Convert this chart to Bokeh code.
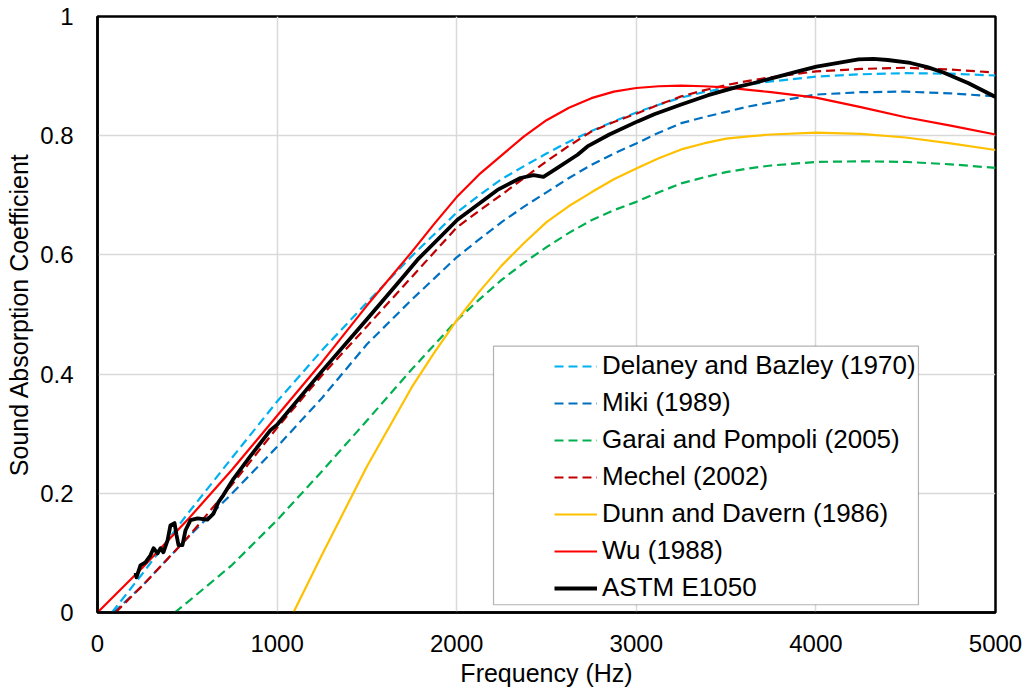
from bokeh.plotting import figure
from bokeh.models import Legend, LegendItem, BoxAnnotation, FixedTicker, Range1d
from bokeh.embed import file_html
from bokeh.resources import INLINE

# ---- data ----
delaney_f = [80, 250, 500, 750, 1000, 1250, 1500, 1750, 2000, 2125, 2250, 2375, 2500,
             2625, 2750, 2875, 3000, 3125, 3250, 3375, 3500, 3625, 3750, 4000, 4250,
             4500, 4750, 5000]
delaney_a = [0.0, 0.065, 0.165, 0.26, 0.354, 0.44, 0.52, 0.598, 0.671, 0.70, 0.727,
             0.749, 0.770, 0.79, 0.808, 0.824, 0.839, 0.852, 0.864, 0.873, 0.880, 0.886,
             0.891, 0.899, 0.903, 0.905, 0.904, 0.901]

miki_f = [90, 250, 500, 750, 1000, 1250, 1500, 1750, 2000, 2125, 2250, 2375, 2500,
          2625, 2750, 2875, 3000, 3125, 3250, 3375, 3500, 3625, 3750, 4000, 4250,
          4500, 4750, 5000]
miki_a = [0.0, 0.045, 0.125, 0.2, 0.278, 0.36, 0.45, 0.525, 0.596, 0.626, 0.655,
          0.681, 0.705, 0.729, 0.751, 0.77, 0.787, 0.805, 0.821, 0.831, 0.840, 0.849,
          0.856, 0.869, 0.873, 0.874, 0.871, 0.866]

garai_f = [430, 500, 750, 1000, 1250, 1500, 1750, 2000, 2125, 2250, 2375, 2500, 2625,
           2750, 2875, 3000, 3125, 3250, 3375, 3500, 3625, 3750, 4000, 4250, 4500,
           4750, 5000]
garai_a = [0.0, 0.017, 0.08, 0.155, 0.237, 0.322, 0.408, 0.49, 0.525, 0.558, 0.587,
           0.613, 0.637, 0.658, 0.675, 0.689, 0.705, 0.72, 0.730, 0.739, 0.745, 0.75,
           0.756, 0.757, 0.756, 0.752, 0.746]

mechel_f = [100, 250, 500, 750, 1000, 1250, 1500, 1750, 2000, 2125, 2250, 2375, 2500,
            2625, 2750, 2875, 3000, 3125, 3250, 3375, 3500, 3625, 3750, 4000, 4250,
            4500, 4750, 5000]
mechel_a = [0.0, 0.045, 0.125, 0.215, 0.31, 0.398, 0.48, 0.563, 0.646, 0.674, 0.701,
            0.729, 0.757, 0.783, 0.807, 0.823, 0.837, 0.852, 0.866, 0.876, 0.885, 0.892,
            0.898, 0.908, 0.912, 0.914, 0.911, 0.906]

dunn_f = [1091, 1250, 1500, 1750, 1875, 2000, 2125, 2250, 2375, 2500, 2625, 2750,
          2875, 3000, 3125, 3250, 3375, 3500, 3625, 3750, 4000, 4250, 4500, 4750, 5000]
dunn_a = [0.0, 0.097, 0.245, 0.378, 0.436, 0.49, 0.538, 0.582, 0.62, 0.655, 0.682,
          0.705, 0.727, 0.745, 0.762, 0.777, 0.787, 0.795, 0.799, 0.802, 0.805, 0.803,
          0.797, 0.787, 0.776]

wu_f = [0, 250, 500, 750, 1000, 1250, 1500, 1750, 1875, 2000, 2125, 2250, 2375, 2500,
        2625, 2750, 2875, 3000, 3125, 3250, 3375, 3500, 3625, 3750, 4000, 4250, 4500,
        4750, 5000]
wu_a = [0.0, 0.075, 0.155, 0.24, 0.33, 0.42, 0.515, 0.605, 0.652, 0.697, 0.735, 0.767,
        0.799, 0.826, 0.847, 0.863, 0.874, 0.880, 0.883, 0.884, 0.883, 0.881, 0.877,
        0.873, 0.864, 0.848, 0.831, 0.817, 0.802]

astm_f = [212, 217, 239, 267, 295, 312, 334, 351, 367, 390, 406, 429, 440, 451, 473,
          490, 518, 557, 612, 646, 673, 701, 752, 850, 963, 1000, 1250, 1500, 1687,
          1782, 2004, 2094, 2227, 2355, 2428, 2483, 2561, 2673, 2728, 2850, 3007,
          3100, 3246, 3400, 3563, 3650, 3800, 3900, 4003, 4100, 4237, 4320, 4400,
          4527, 4620, 4710, 4850, 5000]
astm_a = [0.067, 0.059, 0.079, 0.084, 0.096, 0.108, 0.099, 0.108, 0.101, 0.121, 0.146,
          0.150, 0.130, 0.113, 0.113, 0.138, 0.155, 0.158, 0.156, 0.166, 0.185, 0.197,
          0.222, 0.262, 0.306, 0.315, 0.405, 0.492, 0.558, 0.592, 0.659, 0.679, 0.709,
          0.729, 0.734, 0.731, 0.746, 0.768, 0.782, 0.802, 0.824, 0.836, 0.852, 0.868,
          0.882, 0.888, 0.900, 0.908, 0.916, 0.921, 0.928, 0.929, 0.927, 0.922, 0.915,
          0.906, 0.888, 0.865]

series_names = ["Delaney and Bazley (1970)", "Miki (1989)", "Garai and Pompoli (2005)",
                "Mechel (2002)", "Dunn and Davern (1986)", "Wu (1988)", "ASTM E1050"]

x_ticks = [0, 1000, 2000, 3000, 4000, 5000]
y_ticks = [0, 0.2, 0.4, 0.6, 0.8, 1.0]

FONT = "Liberation Sans"

p = figure(width=1034, height=696, output_backend="svg", toolbar_location=None,
           x_range=Range1d(0, 5000), y_range=Range1d(0, 1),
           min_border_left=97, min_border_right=39, min_border_top=16, min_border_bottom=84)
p.background_fill_color = "white"
p.border_fill_color = "white"
p.outline_line_color = "black"
p.outline_line_width = 2.5

p.xaxis.ticker = FixedTicker(ticks=x_ticks)
p.yaxis.ticker = FixedTicker(ticks=y_ticks)
p.yaxis.major_label_overrides = {0: "0", 0.2: "0.2", 0.4: "0.4", 0.6: "0.6", 0.8: "0.8", 1.0: "1"}
for ax in (p.xaxis, p.yaxis):
    ax.axis_line_color = "black"
    ax.axis_line_width = 2.5
    ax.major_tick_line_color = None
    ax.minor_tick_line_color = None
    ax.major_label_text_font = FONT
    ax.major_label_text_font_size = "24px"
    ax.major_label_text_color = "black"
    ax.axis_label_text_font = FONT
    ax.axis_label_text_font_size = "25px"
    ax.axis_label_text_font_style = "normal"
    ax.axis_label_text_color = "black"
p.xaxis.axis_label = "Frequency (Hz)"
p.yaxis.axis_label = "Sound Absorption Coefficient"
p.xaxis.major_label_standoff = 16
p.yaxis.major_label_standoff = 18
p.xaxis.axis_label_standoff = 4
p.yaxis.axis_label_standoff = 4

p.xgrid.grid_line_color = "#D9D9D9"
p.ygrid.grid_line_color = "#D9D9D9"
p.xgrid.grid_line_width = 1.5
p.ygrid.grid_line_width = 1.5

DASH = "9 5"
r_del = p.line(delaney_f, delaney_a, line_color="#00B0F0", line_width=2.2, line_dash=DASH)
r_miki = p.line(miki_f, miki_a, line_color="#0070C0", line_width=2.2, line_dash=DASH)
r_gar = p.line(garai_f, garai_a, line_color="#00B050", line_width=2.2, line_dash=DASH)
r_mec = p.line(mechel_f, mechel_a, line_color="#C00000", line_width=2.2, line_dash=DASH)
r_dunn = p.line(dunn_f, dunn_a, line_color="#FFC000", line_width=2.2)
r_wu = p.line(wu_f, wu_a, line_color="#FF0000", line_width=2.2)
r_astm = p.line(astm_f, astm_a, line_color="black", line_width=3.8, line_join="round")

box = BoxAnnotation(left=2205, right=4571, bottom=0.013, top=0.447,
                    fill_color="white", fill_alpha=1.0,
                    line_color="black", line_width=1.2)
p.add_layout(box)

renderers = [r_del, r_miki, r_gar, r_mec, r_dunn, r_wu, r_astm]
items = [LegendItem(label=n, renderers=[r]) for n, r in zip(series_names, renderers)]
legend = Legend(items=items, location=(457, 9), orientation="vertical",
                padding=0, margin=0, spacing=6,
                glyph_width=43, glyph_height=30, label_height=30,
                label_standoff=5,
                label_text_font=FONT, label_text_font_size="26px",
                label_text_color="black",
                border_line_alpha=0, background_fill_alpha=0)
p.add_layout(legend)

open("out.html", "w").write(file_html(p, INLINE))
